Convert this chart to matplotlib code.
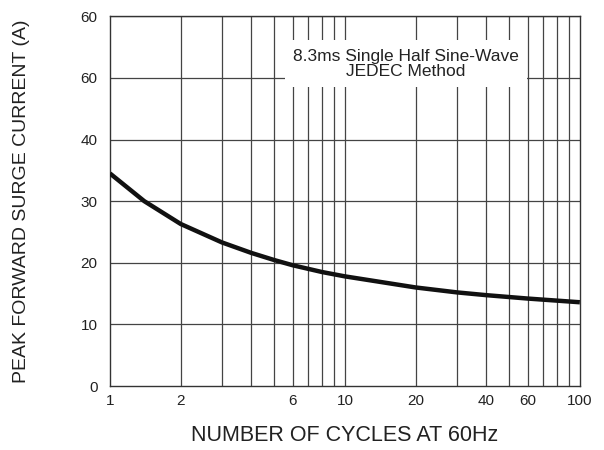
import numpy as np
import matplotlib
matplotlib.use('Agg')
import matplotlib.pyplot as plt

plt.rcParams['font.family'] = ['Liberation Sans', 'DejaVu Sans']

# Кривая: число циклов и пиковый ток (A)
cycles = [1, 1.4, 2, 3, 4, 5, 6, 8, 10, 20, 30, 40, 60, 100]
current = [34.5, 30.0, 26.3, 23.3, 21.6, 20.45, 19.6, 18.5, 17.8, 16.0, 15.2, 14.75, 14.2, 13.6]

x_ticks = [1, 2, 6, 10, 20, 40, 60, 100]
x_grid = [2, 3, 4, 5, 6, 7, 8, 9, 10, 20, 30, 40, 50, 60, 70, 80, 90]
y_ticks = [0, 10, 20, 30, 40, 50, 60]
y_labels = ['0', '10', '20', '30', '40', '60', '60']

fig = plt.figure(figsize=(6.04, 4.5), dpi=100)
ax = fig.add_axes([0.182, 0.142, 0.778, 0.822])

for xv in x_grid:
    ax.axvline(xv, color='#444444', lw=0.9, zorder=1)
for yv in y_ticks[1:]:
    ax.axhline(yv, color='#444444', lw=0.9, zorder=1)

ax.plot(cycles, current, color='#111111', lw=3.2, solid_capstyle='butt',
        solid_joinstyle='round', zorder=4)

ax.set_xscale('log')
ax.set_xlim(1, 100)
ax.set_ylim(0, 60)
ax.set_xticks(x_ticks)
ax.set_xticklabels([str(v) for v in x_ticks])
ax.xaxis.set_minor_locator(matplotlib.ticker.NullLocator())
ax.set_yticks(y_ticks)
ax.set_yticklabels(y_labels)
ax.tick_params(length=0, labelsize=11, colors='#222222')
ax.tick_params(axis='x', pad=6)
ax.tick_params(axis='y', pad=9)

for s in ax.spines.values():
    s.set_color('#333333')
    s.set_linewidth(1.0)

ax.text(0.63, 0.872, '8.3ms Single Half Sine-Wave\nJEDEC Method',
        transform=ax.transAxes, ha='center', va='center',
        fontsize=12.5, color='#222222', linespacing=1.0, zorder=5,
        bbox=dict(facecolor='white', edgecolor='none', pad=6))

ax.set_xlabel('NUMBER OF CYCLES AT 60Hz', fontsize=15.5, color='#222222', labelpad=12)
ax.set_ylabel('PEAK FORWARD SURGE CURRENT (A)', fontsize=14, color='#222222', labelpad=36)

fig.savefig('out.png', dpi=100)
